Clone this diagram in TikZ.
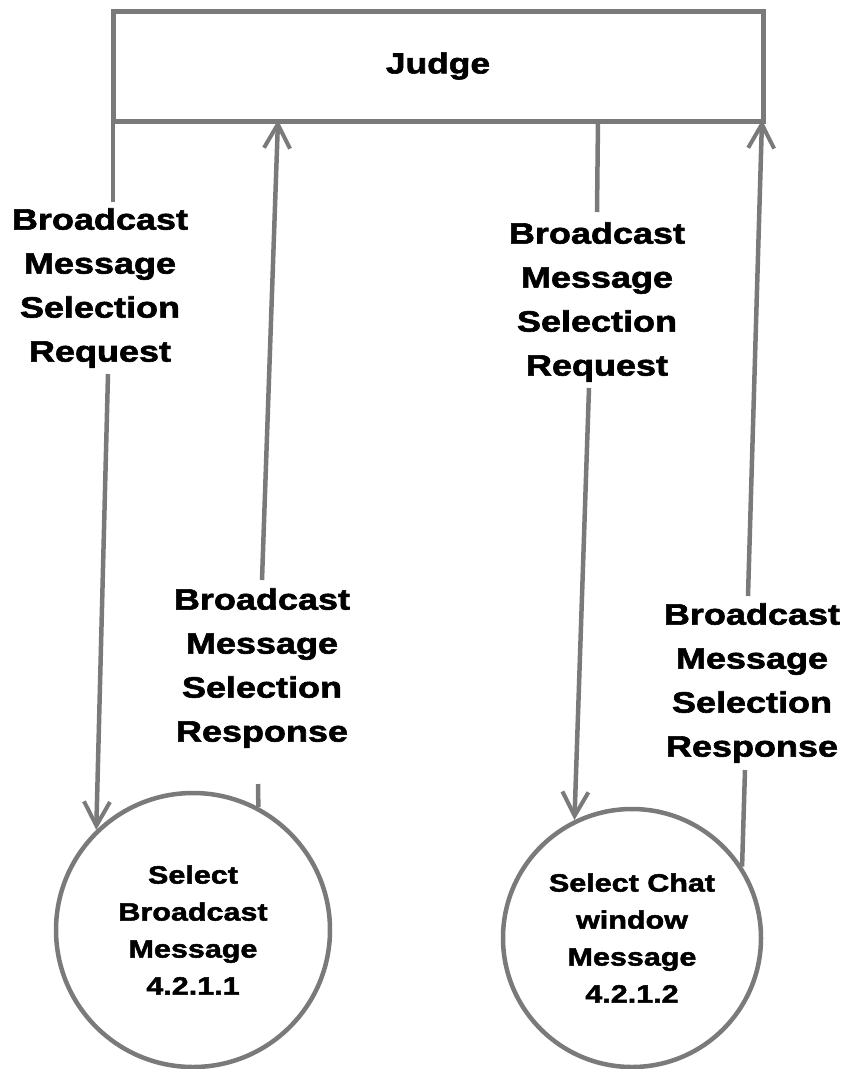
\documentclass[tikz,border=0pt]{standalone}
\usepackage{fontspec}
\usetikzlibrary{arrows.meta}
\newfontfamily\blk[FakeStretch=1.22,FakeBold=2]{Liberation Sans}
\definecolor{lg}{HTML}{7A7A7A}
\begin{document}
\begin{tikzpicture}[x=1pt,y=-1pt,
  flow/.style={draw=lg,line width=4.5pt},
  tip/.style={-{Straight Barb[length=24pt,width=26pt,line width=4pt]}},
  lbl/.style={align=center,inner sep=0pt,outer sep=0pt,font=\blk\bfseries\fontsize{29.5}{44}\selectfont},
  proc/.style={draw=lg,line width=4.5pt,circle,inner sep=0pt,align=center,font=\blk\bfseries\fontsize{25}{37}\selectfont},
  ]
\useasboundingbox (0,0) rectangle (852,1069);
\node[draw=lg,line width=5pt,minimum width=650pt,minimum height=110pt,inner sep=0pt,
      font=\blk\bfseries\fontsize{29}{34}\selectfont] (judge) at (438,66) {Judge};
\node[proc,minimum size=274pt] (c1) at (193,930) {Select\\Broadcast\\Message\\4.2.1.1};
\node[proc,minimum size=258pt] (c2) at (632,938) {Select Chat\\window\\Message\\4.2.1.2};
\node[lbl,minimum height=172pt] (l1) at (100,288) {Broadcast\\Message\\Selection\\Request};
\node[lbl,minimum height=172pt] (l2) at (262,668) {Broadcast\\Message\\Selection\\Response};
\node[lbl,minimum height=172pt] (l3) at (597,302) {Broadcast\\Message\\Selection\\Request};
\node[lbl,minimum height=172pt] (l4) at (752,683) {Broadcast\\Message\\Selection\\Response};
\coordinate (j1) at (113,120);
\coordinate (j2) at (278,120);
\coordinate (j3) at (598,120);
\coordinate (j4) at (762,120);
% left request
\draw[flow] (j1) -- (113,202);
\draw[flow,tip] (108,374) -- (c1.134);
% left response
\draw[flow] (c1.62) -- (258,784);
\draw[flow,tip] (262,580) -- (j2);
% right request
\draw[flow] (j3) -- (597,212);
\draw[flow,tip] (589,388) -- (c2.116);
% right response
\draw[flow] (c2.33) -- (745,770);
\draw[flow,tip] (748,596) -- (j4);
\end{tikzpicture}
\end{document}
